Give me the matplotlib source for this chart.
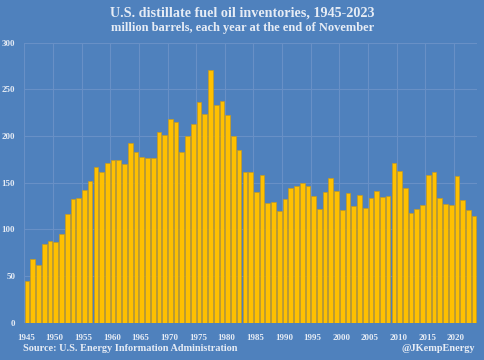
import matplotlib
matplotlib.use("Agg")
import matplotlib.pyplot as plt
import numpy as np

years = list(range(1945, 2024))
inventories = [
    45, 68, 61.5, 84, 88, 86, 95, 116, 133, 134,
    142, 151.5, 167, 161.5, 171, 174, 174, 170, 192.5, 182.5,
    177, 176, 176.5, 204, 201, 218, 215, 182.5, 200.5, 213,
    236, 224, 271, 233.5, 237, 223, 200.5, 185.5, 161.5, 161,
    140, 158.5, 128, 129, 120, 132.5, 144.7, 146.5, 149.3, 147,
    135.4, 122, 140.4, 154.7, 141.5, 120.4, 139.3, 125, 136.5, 123.3,
    134, 140.8, 135, 136, 171, 162, 144, 118, 121.5, 126.5,
    158, 161.5, 133.6, 127, 126.5, 157.5, 132, 121, 114,
]
x_labels = list(range(1945, 2021, 5))
y_ticks = [0, 50, 100, 150, 200, 250, 300]

title = "U.S. distillate fuel oil inventories, 1945-2023"
subtitle = "million barrels, each year at the end of November"
source = "Source: U.S. Energy Information Administration"
credit = "@JKempEnergy"

bg = "#4F81BD"
txt = "#E6ECF5"
serif = ["Liberation Serif", "DejaVu Serif"]

fig = plt.figure(figsize=(4.85, 3.6), dpi=100)
fig.patch.set_facecolor(bg)
ax = fig.add_axes([0.050, 0.1036, 0.9334, 0.7778])
ax.set_facecolor(bg)

ax.bar(years, inventories, width=0.82, color="#FFC000", edgecolor="#C39A22",
       linewidth=0.5, zorder=3)

ax.set_xlim(1944.5, 2023.5)
ax.set_ylim(0, 300)
ax.set_yticks(y_ticks)
ax.set_yticklabels([str(v) for v in y_ticks])
ax.set_xticks([y - 0.2 for y in x_labels])
ax.set_xticklabels([str(y) for y in x_labels])
ax.set_xticks(np.arange(1944.5, 2024, 5), minor=True)

for lab in ax.get_xticklabels() + ax.get_yticklabels():
    lab.set_family(serif)
    lab.set_fontweight("bold")
    lab.set_fontsize(6.4)
    lab.set_color(txt)

ax.tick_params(axis="both", which="both", length=0)
ax.tick_params(axis="y", pad=6.5)
ax.tick_params(axis="x", pad=8)
ax.grid(False)
ax.yaxis.grid(True, color="#6890C6", linewidth=0.8, zorder=0)
ax.xaxis.grid(True, which="minor", color="#6890C6", linewidth=0.8, zorder=0)
for s in ax.spines.values():
    s.set_visible(False)

fig.text(0.5, 0.965, title, ha="center", va="center", fontsize=10.2,
         fontweight="bold", family=serif, color=txt)
fig.text(0.5, 0.922, subtitle, ha="center", va="center", fontsize=9.0,
         fontweight="bold", family=serif, color=txt)
fig.text(0.047, 0.020, source, ha="left", va="bottom", fontsize=7.4,
         fontweight="bold", family=serif, color=txt)
fig.text(0.979, 0.020, credit, ha="right", va="bottom", fontsize=7.4,
         fontweight="bold", family=serif, color=txt)

fig.savefig("out.png", dpi=100, facecolor=bg)
